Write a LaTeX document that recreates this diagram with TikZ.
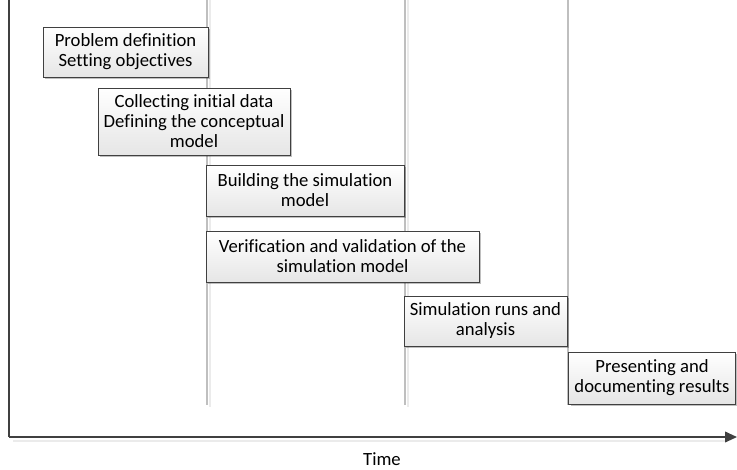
\documentclass[tikz,border=0pt]{standalone}
\usepackage{fontspec}
\setmainfont{Carlito}[Ligatures={NoCommon}]
\usetikzlibrary{arrows.meta,shadows}
\begin{document}
\begin{tikzpicture}[x=0.75pt,y=-0.75pt,
  phase/.style={draw=black!75, line width=0.6pt, align=center, inner sep=0pt,
    font=\fontsize{14}{15}\selectfont,
    top color=white, bottom color=black!10,
    drop shadow={shadow xshift=1.8pt, shadow yshift=-1.8pt, opacity=0.25, fill=black}},
  grid/.style={draw=black!25, line width=0.8pt},
  axis/.style={draw=black!75, line width=1.3pt}]
\useasboundingbox (0,0) rectangle (737,469);

% vertical time markers
\draw[grid] (207,0) -- (207,405);
\draw[grid] (405,0) -- (405,405);
\draw[grid] (568,0) -- (568,405);
\draw[black!8, line width=0.8pt] (210,0) -- (210,407);
\draw[black!8, line width=0.8pt] (408,0) -- (408,407);

% axes
\coordinate (origin) at (9,437);
\coordinate (top) at (9,0);
\coordinate (tend) at (737,437);
\draw[black!8, line width=1pt] (13,441) -- (725,441);
\draw[axis] (top) -- (origin);
\draw[axis, -{Triangle[length=9pt,width=8pt]}] (origin) -- (tend);
\node[font=\fontsize{14}{15}\selectfont, inner sep=0.5pt] (time) at (382,459) {Time};

% phases
\node[phase, minimum width=165*0.75pt, minimum height=50*0.75pt] (p1) at (125.5,52)
  {Problem definition\\Setting objectives};
\node[phase, minimum width=192*0.75pt, minimum height=67*0.75pt] (p2) at (194,121.5)
  {Collecting initial data\\Defining the conceptual\\model};
\node[phase, minimum width=198*0.75pt, minimum height=51*0.75pt] (p3) at (305,190.5)
  {Building the simulation\\model};
\node[phase, minimum width=273*0.75pt, minimum height=51*0.75pt] (p4) at (342.5,256.5)
  {Verification and validation of the\\simulation model};
\node[phase, minimum width=163*0.75pt, minimum height=50*0.75pt] (p5) at (485.5,321)
  {Simulation runs and\\analysis};
\node[phase, minimum width=167*0.75pt, minimum height=52*0.75pt] (p6) at (652,378)
  {Presenting and\\documenting results};
\end{tikzpicture}
\end{document}
